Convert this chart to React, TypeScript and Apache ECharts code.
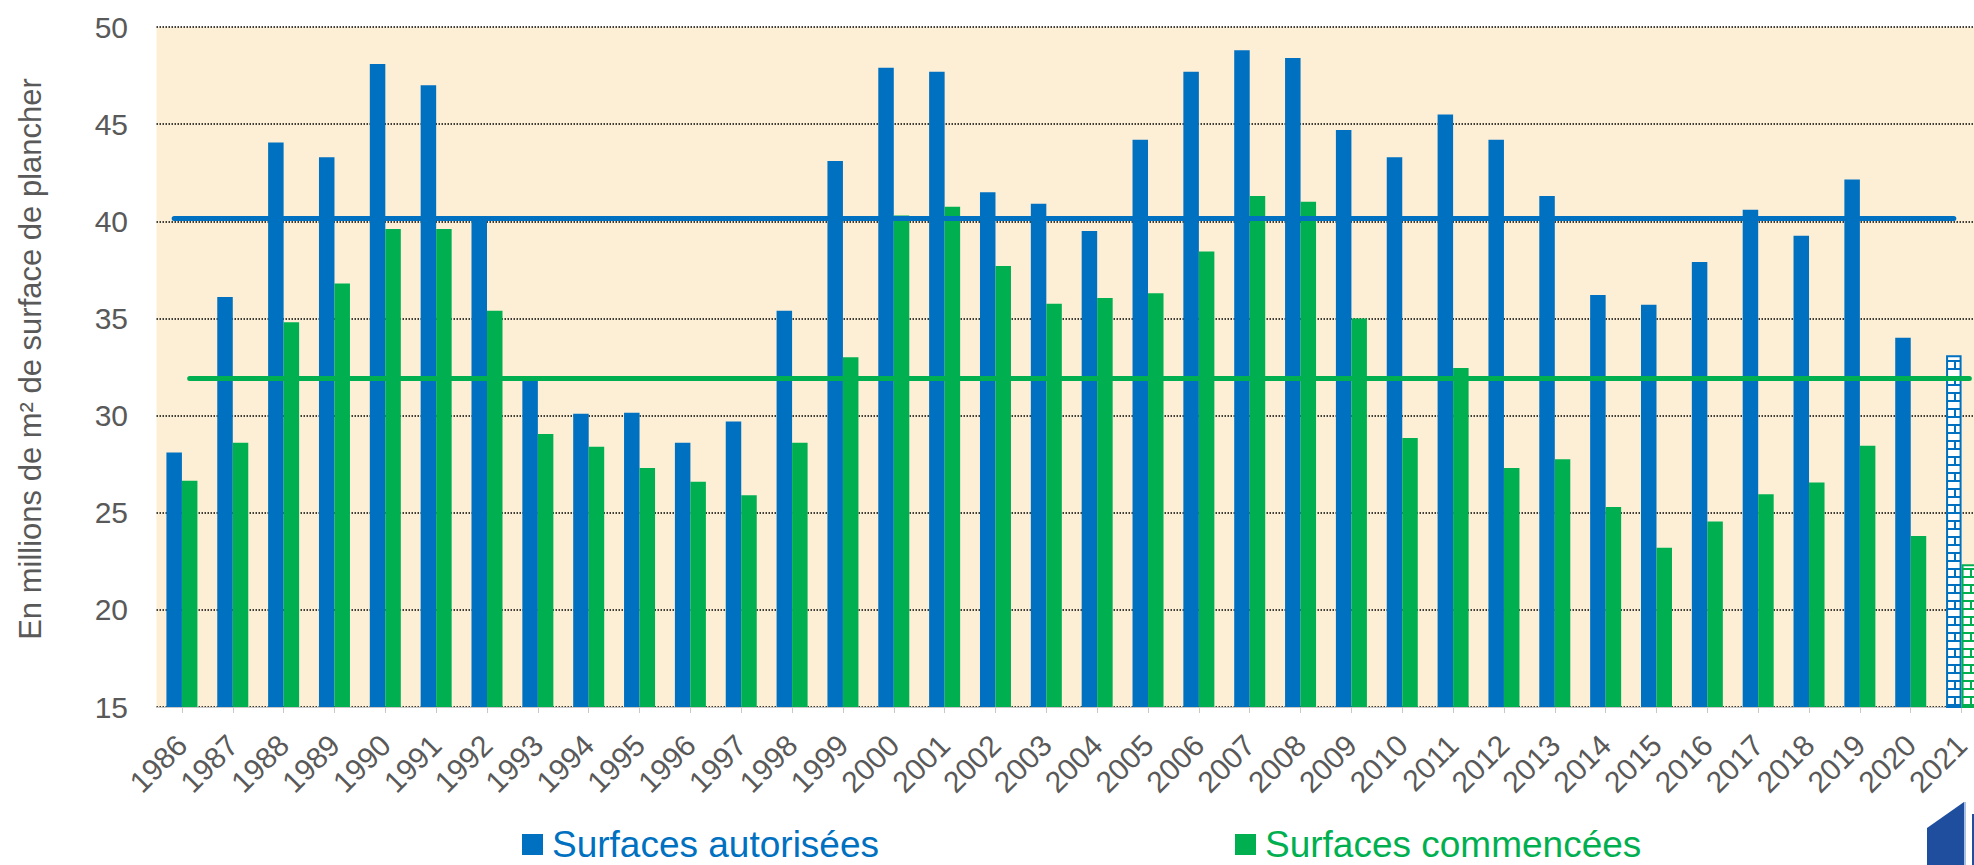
import React, { useEffect, useRef } from "react";
import * as echarts from "echarts";

const YEARS = [
  "1986", "1987", "1988", "1989", "1990", "1991", "1992", "1993", "1994", "1995",
  "1996", "1997", "1998", "1999", "2000", "2001", "2002", "2003", "2004", "2005",
  "2006", "2007", "2008", "2009", "2010", "2011", "2012", "2013", "2014", "2015",
  "2016", "2017", "2018", "2019", "2020", "2021",
];

const AUTORISEES = [
  28.1, 36.1, 44.05, 43.3, 48.1, 47.0, 40.1, 31.9, 30.1, 30.15,
  28.6, 29.7, 35.4, 43.1, 47.9, 47.7, 41.5, 40.9, 39.5, 44.2,
  47.7, 48.8, 48.4, 44.7, 43.3, 45.5, 44.2, 41.3, 36.2, 35.7,
  37.9, 40.6, 39.25, 42.15, 34.0, 33.1,
];

const COMMENCEES = [
  26.65, 28.6, 34.8, 36.8, 39.6, 39.6, 35.4, 29.05, 28.4, 27.3,
  26.6, 25.9, 28.6, 33.0, 40.3, 40.75, 37.7, 35.75, 36.05, 36.3,
  38.45, 41.3, 41.0, 35.0, 28.85, 32.45, 27.3, 27.75, 25.3, 23.2,
  24.55, 25.95, 26.55, 28.45, 23.8, 22.35,
];

const AVG_AUTORISEES = 40.15;
const AVG_COMMENCEES = 31.9;
const PROVISIONAL_YEAR = "2021";

const Y_MIN = 15;
const Y_MAX = 50;
const Y_STEP = 5;

const SERIES_NAMES = ["Surfaces autorisées", "Surfaces commencées"];
const BLUE = "#0070C0";
const GREEN = "#00B050";
const GREY = "#595959";
const FONT = "'Liberation Sans', Arial, sans-serif";

function makeBrick(color: string): HTMLCanvasElement {
  const c = document.createElement("canvas");
  c.width = 16;
  c.height = 16;
  const ctx = c.getContext("2d")!;
  ctx.fillStyle = "#ffffff";
  ctx.fillRect(0, 0, 16, 16);
  ctx.fillStyle = color;
  ctx.fillRect(0, 0, 16, 2);
  ctx.fillRect(0, 8, 16, 2);
  ctx.fillRect(8, 2, 2, 6);
  ctx.fillRect(2, 10, 2, 6);
  return c;
}

export default function App() {
  const ref = useRef<HTMLDivElement>(null);

  useEffect(() => {
    if (!ref.current) return;
    const chart = echarts.init(ref.current, undefined, { renderer: "svg" });

    const mkData = (vals: number[], color: string) =>
      vals.map((v, i) =>
        YEARS[i] === PROVISIONAL_YEAR
          ? {
              value: v,
              itemStyle: {
                color: { image: makeBrick(color), repeat: "repeat" },
                borderColor: color,
                borderWidth: 2,
              },
            }
          : v
      );

    const avgLine = (val: number, color: string) => ({
      silent: true,
      symbol: "none",
      label: { show: false },
      lineStyle: { color, width: 5, type: "solid", cap: "round" },
      data: [[{ coord: [YEARS[0], val] }, { coord: [YEARS[YEARS.length - 1], val] }]],
    });

    chart.setOption({
      animation: false,
      textStyle: { fontFamily: FONT },
      grid: {
        left: 156.5,
        right: 0,
        top: 27,
        bottom: 158,
        show: true,
        backgroundColor: "#FCEFD6",
        borderWidth: 0,
      },
      legend: {
        left: 522,
        top: 826,
        padding: 0,
        icon: "rect",
        itemWidth: 21,
        itemHeight: 21,
        itemGap: 356,
        selectedMode: false,
        textStyle: { fontSize: 37, fontFamily: FONT, padding: [0, 0, 0, 4] },
        data: [
          { name: SERIES_NAMES[0], textStyle: { color: BLUE } },
          { name: SERIES_NAMES[1], textStyle: { color: GREEN } },
        ],
      },
      xAxis: {
        type: "category",
        data: YEARS,
        axisLine: { show: true, lineStyle: { color: "#C8C8C8", width: 1 } },
        axisTick: { show: true, alignWithLabel: true, length: 6, lineStyle: { color: "#C8C8C8" } },
        axisLabel: {
          rotate: 45,
          interval: 0,
          margin: 33,
          fontSize: 30,
          color: GREY,
          fontFamily: FONT,
        },
      },
      yAxis: {
        type: "value",
        min: Y_MIN,
        max: Y_MAX,
        interval: Y_STEP,
        axisLine: { show: false },
        axisTick: { show: false },
        axisLabel: { margin: 28.5, fontSize: 30, color: GREY, fontFamily: FONT },
        splitLine: { show: true, lineStyle: { color: "#000", width: 1.5, type: [1.5, 1.5] } },
      },
      graphic: [
        {
          type: "text",
          x: 30,
          y: 359,
          rotation: Math.PI / 2,
          style: {
            text: "En millions de m² de surface de plancher",
            font: `31px ${FONT}`,
            fill: GREY,
            align: "center",
            verticalAlign: "middle",
          },
        },
        {
          type: "polygon",
          shape: { points: [[1927, 828], [1964, 802], [1964, 865], [1927, 865]] },
          style: { fill: "#1F4E9E" },
        },
        {
          type: "rect",
          shape: { x: 1964, y: 802, width: 2, height: 63 },
          style: { fill: "#A9C1E6" },
        },
        {
          type: "rect",
          shape: { x: 1972, y: 814, width: 3, height: 51 },
          style: { fill: "#1F4E9E" },
        },
      ],
      series: [
        {
          name: SERIES_NAMES[0],
          type: "bar",
          barWidth: 15.5,
          barGap: "0%",
          itemStyle: { color: BLUE },
          data: mkData(AUTORISEES, BLUE),
          markLine: avgLine(AVG_AUTORISEES, BLUE),
        },
        {
          name: SERIES_NAMES[1],
          type: "bar",
          barWidth: 15.5,
          barGap: "0%",
          itemStyle: { color: GREEN },
          data: mkData(COMMENCEES, GREEN),
          markLine: avgLine(AVG_COMMENCEES, GREEN),
        },
      ],
    });

    return () => chart.dispose();
  }, []);

  return (
    <div
      style={{
        position: "absolute",
        left: 0,
        top: 0,
        width: 1974,
        height: 865,
        overflow: "hidden",
        background: "#fff",
      }}
    >
      <div ref={ref} style={{ width: 1987, height: 865 }} />
    </div>
  );
}
